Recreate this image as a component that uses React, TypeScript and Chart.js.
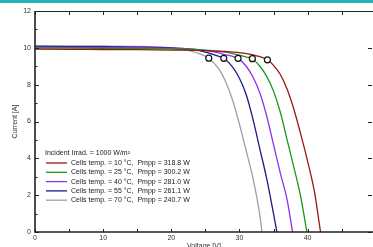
import React, { useEffect, useRef } from "react";
import { Chart, registerables } from "chart.js";

Chart.register(...registerables);

// Curve data (Voltage [V], Current [A]) per cell temperature
const v10 = [0, 5, 10, 15, 20, 25, 28, 30, 32, 33, 34.1, 35, 36, 37, 38, 39, 40, 41, 41.9];
const i10 = [9.93, 9.92, 9.91, 9.9, 9.88, 9.85, 9.8, 9.74, 9.62, 9.52, 9.35, 9.05, 8.55, 7.75, 6.65, 5.3, 3.85, 2.2, 0];

const v25 = [0, 5, 10, 15, 20, 24, 26, 28, 30, 31, 31.9, 33, 34, 35, 36, 37, 38, 39, 39.9];
const i25 = [9.99, 9.98, 9.97, 9.96, 9.94, 9.9, 9.85, 9.77, 9.6, 9.5, 9.41, 9.0, 8.45, 7.65, 6.5, 5.0, 3.5, 1.9, 0];

const v40 = [0, 5, 10, 15, 20, 24, 26, 27, 28, 29, 29.8, 31, 32, 33, 34, 35, 36, 37, 37.8];
const i40 = [10.04, 10.03, 10.02, 10.0, 9.97, 9.9, 9.8, 9.72, 9.62, 9.53, 9.43, 9.0, 8.4, 7.55, 6.3, 4.75, 3.2, 1.75, 0];

const v55 = [0, 5, 10, 15, 20, 22, 24, 25, 26, 27, 27.7, 29, 30, 31, 32, 33, 34, 35, 35.5];
const i55 = [10.08, 10.07, 10.06, 10.04, 10.0, 9.96, 9.86, 9.77, 9.66, 9.54, 9.43, 8.95, 8.35, 7.45, 6.1, 4.5, 2.9, 1.0, 0];

const v70 = [0, 5, 10, 15, 18, 20, 22, 23, 24, 25, 25.5, 27, 28, 29, 30, 31, 32, 33, 33.3];
const i70 = [10.12, 10.11, 10.1, 10.08, 10.05, 10.0, 9.9, 9.81, 9.7, 9.55, 9.44, 8.85, 8.15, 7.15, 5.85, 4.4, 2.9, 0.9, 0];

const temps = [10, 25, 40, 55, 70];
const pmpp = [318.8, 300.2, 281.0, 261.1, 240.7];
const colors = ["#9a1515", "#1c961c", "#9030ee", "#1a1a88", "#a0a0a0"];

// Maximum power points
const mppV = [34.1, 31.9, 29.8, 27.7, 25.5];
const mppI = [9.35, 9.41, 9.43, 9.43, 9.44];

const xTickValues = [0, 10, 20, 30, 40];
const yTickValues = [0, 2, 4, 6, 8, 10, 12];
const irradTitle = "Incident Irrad. = 1000 W/m²";

const curves = [
  [v10, i10],
  [v25, i25],
  [v40, i40],
  [v55, i55],
  [v70, i70],
];

const FONT = "Arial, 'Liberation Sans', sans-serif";

const framePlugin = {
  id: "frame",
  afterDraw(chart: any) {
    const { ctx, chartArea } = chart;
    const xs = chart.scales.x;
    const ys = chart.scales.y;
    const { left, right, top, bottom } = chartArea;
    ctx.save();
    ctx.strokeStyle = "#222";
    ctx.lineWidth = 1;
    ctx.beginPath();
    ctx.moveTo(left, top + 0.5);
    ctx.lineTo(right, top + 0.5);
    ctx.stroke();
    ctx.lineWidth = 1.6;
    ctx.beginPath();
    ctx.moveTo(left, top);
    ctx.lineTo(left, bottom);
    ctx.lineTo(right, bottom);
    ctx.stroke();
    ctx.lineWidth = 1;
    for (let v = 0; v <= 12; v += 1) {
      const y = Math.round(ys.getPixelForValue(v)) + 0.5;
      const major = v % 2 === 0;
      ctx.beginPath();
      ctx.moveTo(left, y);
      ctx.lineTo(left + (major ? 4 : 2.5), y);
      ctx.stroke();
      if (major) {
        ctx.beginPath();
        ctx.moveTo(right - 1, y);
        ctx.lineTo(right - 5, y);
        ctx.stroke();
      }
    }
    for (let v = 0; v <= 50; v += 5) {
      const x = Math.round(xs.getPixelForValue(v)) + 0.5;
      if (x > right) continue;
      ctx.beginPath();
      ctx.moveTo(x, top);
      ctx.lineTo(x, top + 4);
      ctx.stroke();
      ctx.beginPath();
      ctx.moveTo(x, bottom);
      ctx.lineTo(x, bottom - 3);
      ctx.stroke();
    }
    ctx.font = `7px ${FONT}`;
    ctx.fillStyle = "#222";
    ctx.textBaseline = "middle";
    ctx.textAlign = "left";
    ctx.fillText(irradTitle, 45, 153);
    const ds = chart.data.datasets.filter((d: any) => d.showInLegend);
    ds.forEach((d: any, k: number) => {
      const y = 163 + k * 9.3;
      ctx.strokeStyle = d.borderColor;
      ctx.lineWidth = 1.3;
      ctx.beginPath();
      ctx.moveTo(46, y);
      ctx.lineTo(67, y);
      ctx.stroke();
      ctx.fillStyle = "#222";
      ctx.fillText(d.label, 71, y);
    });
    ctx.restore();
  },
};

export default function App() {
  const ref = useRef<HTMLCanvasElement | null>(null);
  useEffect(() => {
    if (!ref.current) return;
    const datasets: any[] = curves.map(([vs, is], k) => ({
      label: `Cells temp. = ${temps[k]} °C,  Pmpp = ${pmpp[k].toFixed(1)} W`,
      data: vs.map((v, j) => ({ x: v, y: is[j] })),
      borderColor: colors[k],
      backgroundColor: colors[k],
      borderWidth: 1.3,
      pointRadius: 0,
      cubicInterpolationMode: "monotone",
      showInLegend: true,
      order: 2,
    }));
    datasets.push({
      label: "MPP",
      type: "scatter",
      data: mppV.map((v, j) => ({ x: v, y: mppI[j] })),
      borderColor: "#111",
      backgroundColor: "#ffffff",
      borderWidth: 1.2,
      pointRadius: 3,
      showLine: false,
      showInLegend: false,
      order: 1,
    });
    const chart = new Chart(ref.current, {
      type: "line",
      data: { datasets },
      options: {
        animation: false,
        responsive: false,
        devicePixelRatio: 1,
        layout: { autoPadding: false, padding: { top: 11, left: 0, right: 0, bottom: 0 } },
        plugins: { legend: { display: false }, tooltip: { enabled: false } },
        scales: {
          x: {
            type: "linear",
            bounds: "data",
            min: 0,
            max: 49.6,
            grid: { display: false, drawTicks: false },
            border: { display: false },
            afterBuildTicks: (s: any) => {
              s.ticks = xTickValues.map((v) => ({ value: v }));
            },
            afterFit: (s: any) => {
              s.height = 15;
              s.paddingLeft = 0;
              s.paddingRight = 0;
            },
            ticks: {
              stepSize: 10,
              includeBounds: false,
              autoSkip: false,
              maxRotation: 0,
              padding: 2,
              color: "#333",
              font: { size: 7, family: FONT },
            },
            title: {
              display: true,
              text: "Voltage [V]",
              color: "#333",
              font: { size: 7, family: FONT },
              padding: { top: 0, bottom: -3.5 },
            },
          },
          y: {
            type: "linear",
            bounds: "data",
            min: 0,
            max: 12,
            grid: { display: false, drawTicks: false },
            border: { display: false },
            afterBuildTicks: (s: any) => {
              s.ticks = yTickValues.map((v) => ({ value: v }));
            },
            afterFit: (s: any) => {
              s.width = 35;
              s.paddingTop = 0;
              s.paddingBottom = 0;
            },
            ticks: {
              stepSize: 2,
              autoSkip: false,
              padding: 4,
              color: "#333",
              font: { size: 7, family: FONT },
            },
            title: {
              display: true,
              text: "Current [A]",
              color: "#333",
              font: { size: 7, family: FONT },
              padding: { top: 10.5, bottom: 0 },
            },
          },
        },
      },
      plugins: [framePlugin],
    } as any);
    return () => chart.destroy();
  }, []);

  return (
    <div
      style={{
        position: "fixed",
        left: 0,
        top: 0,
        width: 373,
        height: 247,
        background: "#fff",
        overflow: "hidden",
      }}
    >
      <canvas ref={ref} width={373} height={247} style={{ display: "block" }} />
      <div
        style={{
          position: "absolute",
          left: 0,
          top: 0,
          width: 373,
          height: 3,
          background: "#27b3b3",
        }}
      />
    </div>
  );
}
